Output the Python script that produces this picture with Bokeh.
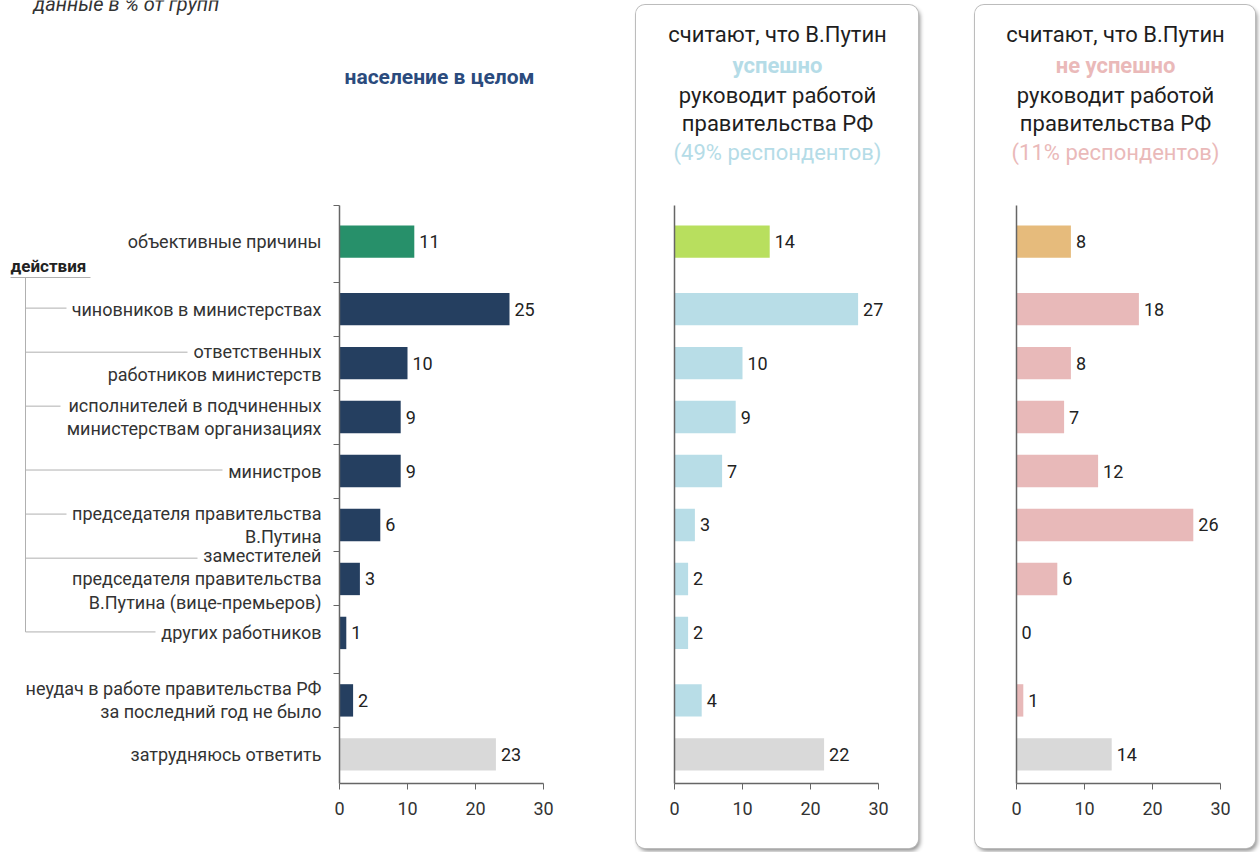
from bokeh.plotting import figure
from bokeh.models import Range1d, FixedTicker, Label, Arrow, ColumnDataSource
from bokeh.layouts import row
from bokeh.embed import file_html
from bokeh.resources import INLINE
from bokeh.core.properties import value

# ---------------- data ----------------
categories = [
    "объективные причины",
    "чиновников в министерствах",
    "ответственных\nработников министерств",
    "исполнителей в подчиненных\nминистерствам организациях",
    "министров",
    "председателя правительства\nВ.Путина",
    "заместителей\nпредседателя правительства\nВ.Путина (вице-премьеров)",
    "других работников",
    "неудач в работе правительства РФ\nза последний год не было",
    "затрудняюсь ответить",
]
total = [11, 25, 10, 9, 9, 6, 3, 1, 2, 23]
success = [14, 27, 10, 9, 7, 3, 2, 2, 4, 22]
fail = [8, 18, 8, 7, 12, 26, 6, 0, 1, 14]
x_ticks = [0, 10, 20, 30]

title_total = "население в целом"
title_lines_success = ["считают, что В.Путин", "успешно", "руководит работой", "правительства РФ", "(49% респондентов)"]
title_lines_fail = ["считают, что В.Путин", "не успешно", "руководит работой", "правительства РФ", "(11% респондентов)"]
group_label = "действия"
note_text = "данные в % от групп"

# ---------------- layout / style ----------------
FONT = "Roboto"
row_pos = [0, 1.25, 2.25, 3.25, 4.25, 5.25, 6.25, 7.25, 8.5, 9.5]
Y_TOP, Y_BOT = -0.67, 10.04
minor = [Y_TOP] + [p - 0.5 for p in row_pos[1:]]

AX_TOP, AX_BOTTOM = 205, 783          # page pixels of the value-axis area
KY = (AX_BOTTOM - AX_TOP) / (Y_BOT - Y_TOP)   # px per row unit
KX = 6.8                               # px per percent
LABEL_PX = 18
LINE_H = 1.1

AXIS_COL = "#666666"
TXT_COL = "#333333"
GRAY = "#d9d9d9"

pal_total = ["#27906a"] + ["#253f60"] * 8 + [GRAY]
pal_success = ["#b8df5e"] + ["#b8dde7"] * 8 + [GRAY]
pal_fail = ["#e6bb7c"] + ["#e8b9b9"] * 8 + [GRAY]


def page_y(pos):
    return AX_TOP + (pos - Y_TOP) * KY


class Panel:
    def __init__(self, left, top, w, h, zero_x):
        self.left, self.top, self.w, self.h = left, top, w, h
        x0 = (left - zero_x) / KX
        x1 = (left + w - zero_x) / KX
        y0 = Y_TOP - (AX_TOP - top) / KY
        y1 = Y_TOP + (top + h - AX_TOP) / KY
        p = figure(width=w, height=h, x_range=Range1d(x0, x1), y_range=Range1d(y1, y0),
                   output_backend="svg", toolbar_location=None,
                   min_border=0, min_border_left=0, min_border_right=0,
                   min_border_top=0, min_border_bottom=0)
        p.outline_line_color = None
        p.grid.visible = False
        p.background_fill_color = "white"
        p.border_fill_color = "white"
        xa = p.xaxis[0]
        xa.fixed_location = Y_BOT
        xa.bounds = (0, 30)
        xa.ticker = FixedTicker(ticks=x_ticks)
        xa.axis_line_color = AXIS_COL
        xa.axis_line_width = 1.3
        xa.major_tick_line_color = AXIS_COL
        xa.major_tick_out = 6
        xa.major_tick_in = 0
        xa.minor_tick_line_color = None
        xa.major_label_text_font = FONT
        xa.major_label_text_font_size = "18px"
        xa.major_label_text_color = TXT_COL
        xa.major_label_standoff = 12
        ya = p.yaxis[0]
        ya.fixed_location = 0
        ya.bounds = (Y_TOP, Y_BOT)
        ya.axis_line_color = AXIS_COL
        ya.axis_line_width = 1.5
        self.p = p

    def bars(self, vals, colors):
        src = ColumnDataSource(dict(pos=row_pos, val=vals, color=colors, lab=[str(v) for v in vals]))
        self.p.hbar(y="pos", left=0, right="val", height=0.6, fill_color="color",
                    line_color=None, source=src)
        self.p.text(x="val", y="pos", text="lab", x_offset=5, text_baseline="middle",
                    text_align="left", text_font=value(FONT), text_font_size="18px",
                    text_color="#222222", source=src)

    def label(self, px, py, text, align="center", baseline="middle", size="20px",
              style="normal", color="#222222"):
        self.p.add_layout(Label(x=px - self.left, y=self.h - (py - self.top),
                                x_units="screen", y_units="screen", text=text,
                                text_align=align, text_baseline=baseline, text_font=FONT,
                                text_font_size=size, text_font_style=style, text_color=color))

    def seg(self, x0, y0, x1, y1, color="#b0b0b0"):
        self.p.add_layout(Arrow(end=None, x_start=x0 - self.left, y_start=self.h - (y0 - self.top),
                                x_end=x1 - self.left, y_end=self.h - (y1 - self.top),
                                start_units="screen", end_units="screen",
                                line_color=color, line_width=1))


# ---- panel 1: population ----
P1 = Panel(0, 0, 636, 852, 339)
P1.bars(total, pal_total)
ya = P1.p.yaxis[0]
ya.ticker = FixedTicker(ticks=row_pos, minor_ticks=minor)
ya.major_label_overrides = {p: c for p, c in zip(row_pos, categories)}
ya.major_tick_line_color = None
ya.major_tick_out = 0
ya.major_tick_in = 0
ya.minor_tick_line_color = AXIS_COL
ya.minor_tick_out = 6
ya.minor_tick_in = 0
ya.major_label_text_font = FONT
ya.major_label_text_font_size = f"{LABEL_PX}px"
ya.major_label_text_color = TXT_COL
ya.major_label_standoff = 12
ya.major_label_text_line_height = LINE_H

P1.label(439, 76, title_total, size="21px", style="bold", color="#2b4b7d")
P1.label(33, 3, note_text, align="left", baseline="alphabetic", size="20px",
         style="italic", color=TXT_COL)
P1.label(10, 265, group_label, align="left", size="17px", style="bold", color="#222222")

P1.seg(10, 277, 90, 277)
bracket_rows = [1, 2, 3, 4, 5, 6, 7]
bracket_ends = [66, 187, 60, 222, 66, 197, 155]
last_y = 0
for i, xe in zip(bracket_rows, bracket_ends):
    n = categories[i].count("\n") + 1
    yy = page_y(row_pos[i]) - (n - 1) / 2 * LABEL_PX * LINE_H - 1
    P1.seg(25, yy, xe, yy)
    last_y = yy
P1.seg(25, 277, 25, last_y)


# ---- panels 2 and 3 ----
def boxed(vals, colors, lines, accent, left, w, zero_x):
    P = Panel(left, 5, w, 843, zero_x)
    P.bars(vals, colors)
    ya = P.p.yaxis[0]
    ya.ticker = FixedTicker(ticks=[])
    ya.major_tick_line_color = None
    ya.minor_tick_line_color = None
    cx = left + w / 2
    ys = [34, 65, 95, 123, 152]
    for i, (t, yy) in enumerate(zip(lines, ys)):
        col = accent if i in (1, 4) else "#1e1e1e"
        style = "bold" if i == 1 else "normal"
        P.label(cx, yy, t, size="22px", style=style, color=col)
    P.p.styles = {"border-radius": "9px", "overflow": "hidden",
                  "box-shadow": "0 0 0 1px #bcbcbc, 2px 3px 4px rgba(0,0,0,0.45)"}
    return P


P2 = boxed(success, pal_success, title_lines_success, "#b5dce7", 636, 282, 674)
P2.p.margin = (5, 0, 0, 0)
P3 = boxed(fail, pal_fail, title_lines_fail, "#eab9b9", 975, 280, 1016)
P3.p.margin = (5, 0, 0, 57)

layout = row(P1.p, P2.p, P3.p, spacing=0)

open("out.html", "w").write(file_html(layout, INLINE))
